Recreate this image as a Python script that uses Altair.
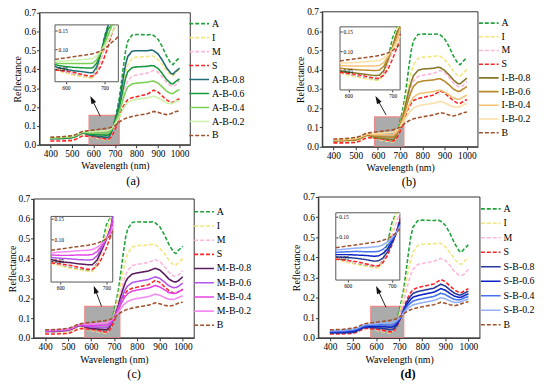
import math
import altair as alt
import pandas as pd

W, H = 542, 380
FONT = "Liberation Serif"

WL = [400, 450, 500, 520, 540, 550, 560, 570, 580, 600,
      620, 640, 660, 670, 680, 690, 700, 710, 720, 730,
      740, 750, 760, 780, 800, 850, 870, 880, 900, 920,
      940, 960, 970, 980, 1000]

A = [.030, .031, .034, .042, .056, .060, .058, .052, .046, .040,
     .035, .031, .027, .027, .045, .085, .135, .185, .245, .330,
     .420, .500, .550, .582, .585, .583, .585, .580, .560, .520,
     .470, .432, .425, .440, .462]
I = [.028, .029, .032, .040, .052, .056, .055, .050, .044, .038,
     .033, .029, .025, .025, .040, .075, .115, .160, .215, .275,
     .335, .385, .425, .458, .465, .468, .472, .470, .452, .425,
     .392, .368, .366, .378, .400]
M = [.030, .031, .035, .044, .056, .060, .058, .053, .047, .041,
     .037, .033, .029, .029, .042, .070, .100, .135, .180, .230,
     .275, .315, .340, .365, .370, .380, .390, .395, .385, .360,
     .330, .312, .310, .315, .340]
S = [.020, .020, .022, .030, .042, .046, .047, .046, .045, .043,
     .040, .035, .030, .030, .038, .055, .080, .110, .145, .180,
     .205, .225, .240, .250, .255, .268, .282, .290, .280, .258,
     .238, .225, .225, .232, .245]
B = [.040, .042, .048, .055, .066, .070, .072, .074, .075, .078,
     .081, .084, .087, .089, .092, .096, .102, .110, .120, .128,
     .135, .140, .145, .150, .155, .165, .172, .177, .172, .165,
     .160, .165, .170, .175, .180]

AB8 = [.032, .033, .037, .045, .058, .062, .061, .056, .052, .048,
       .044, .042, .039, .039, .054, .087, .128, .170, .220, .290,
       .363, .428, .469, .496, .499, .499, .502, .499, .482, .449,
       .408, .379, .374, .387, .406]
AB6 = [.034, .035, .040, .047, .060, .064, .064, .061, .058, .055,
       .053, .052, .051, .052, .064, .089, .122, .155, .195, .249,
       .306, .356, .388, .409, .413, .416, .420, .419, .405, .378,
       .346, .325, .323, .334, .349]
AB4 = [.036, .038, .042, .050, .062, .066, .066, .065, .063, .063,
       .063, .063, .063, .064, .073, .092, .115, .140, .170, .209,
       .249, .284, .307, .323, .327, .332, .337, .338, .327, .307,
       .284, .272, .272, .281, .293]
AB2 = [.038, .040, .045, .052, .064, .068, .069, .070, .069, .070,
       .072, .073, .075, .077, .083, .094, .109, .125, .145, .168,
       .192, .212, .226, .236, .241, .249, .255, .258, .250, .236,
       .222, .218, .221, .228, .236]

IB8 = [.030, .032, .035, .043, .055, .059, .058, .055, .050, .046,
       .043, .040, .037, .038, .050, .079, .112, .150, .196, .246,
       .295, .336, .369, .396, .403, .407, .412, .411, .396, .373,
       .346, .327, .327, .337, .356]
IB6 = [.033, .034, .038, .046, .058, .062, .062, .060, .056, .054,
       .052, .051, .050, .051, .061, .083, .110, .140, .177, .216,
       .255, .287, .313, .335, .341, .347, .352, .353, .340, .321,
       .299, .287, .288, .297, .312]
IB4 = [.035, .037, .042, .049, .060, .064, .065, .064, .063, .062,
       .062, .062, .062, .063, .071, .088, .107, .130, .158, .187,
       .215, .238, .257, .273, .279, .286, .292, .294, .284, .269,
       .253, .246, .248, .256, .268]
IB2 = [.038, .039, .045, .052, .063, .067, .069, .069, .069, .070,
       .071, .073, .075, .076, .082, .092, .105, .120, .139, .157,
       .175, .189, .201, .212, .217, .226, .232, .236, .228, .217,
       .206, .206, .209, .216, .224]

MB8 = [.032, .033, .038, .046, .058, .062, .061, .057, .053, .048,
       .046, .043, .041, .041, .052, .075, .100, .130, .168, .210,
       .247, .280, .301, .322, .327, .337, .346, .351, .342, .321,
       .296, .283, .282, .287, .308]
MB6 = [.034, .035, .040, .048, .060, .064, .064, .061, .058, .056,
       .055, .053, .052, .053, .062, .080, .101, .125, .156, .189,
       .219, .245, .262, .279, .284, .294, .303, .308, .300, .282,
       .262, .253, .254, .259, .276]
MB4 = [.036, .038, .043, .051, .062, .066, .066, .066, .064, .063,
       .063, .064, .064, .065, .072, .086, .101, .120, .144, .169,
       .191, .210, .223, .236, .241, .251, .259, .264, .257, .243,
       .228, .224, .226, .231, .244]
MB2 = [.038, .040, .045, .053, .064, .068, .069, .070, .069, .071,
       .072, .074, .075, .077, .082, .091, .102, .115, .132, .148,
       .163, .175, .184, .193, .198, .208, .216, .221, .215, .204,
       .194, .194, .198, .203, .212]

SB8 = [.024, .024, .027, .035, .047, .051, .052, .052, .051, .050,
       .048, .045, .041, .042, .049, .063, .084, .110, .140, .170,
       .191, .208, .221, .230, .235, .247, .260, .267, .258, .239,
       .222, .213, .214, .221, .232]
SB6 = [.028, .029, .032, .040, .052, .056, .057, .057, .057, .057,
       .056, .055, .053, .054, .060, .071, .089, .110, .135, .159,
       .177, .191, .202, .210, .215, .227, .238, .245, .237, .221,
       .207, .201, .203, .209, .219]
SB4 = [.032, .033, .038, .045, .056, .060, .062, .063, .063, .064,
       .065, .064, .064, .065, .070, .080, .093, .110, .130, .149,
       .163, .174, .183, .190, .195, .206, .216, .222, .215, .202,
       .191, .189, .192, .198, .206]
SB2 = [.036, .038, .043, .050, .061, .065, .067, .068, .069, .071,
       .073, .074, .076, .077, .081, .088, .098, .110, .125, .138,
       .149, .157, .164, .170, .175, .186, .194, .200, .194, .184,
       .176, .177, .181, .186, .193]

END_COLORS = {"A": "#1fa33a", "I": "#f3e67c", "M": "#ffb6dc",
              "S": "#ff2424", "B": "#a0522d"}

X_TICKS = [400, 500, 600, 700, 800, 900, 1000]
Y_TICKS = [0.0, 0.1, 0.2, 0.3, 0.4, 0.5, 0.6, 0.7]
INSET_X_TICKS = [600, 700]
INSET_Y_TICKS = [0.05, 0.10, 0.15]

PANELS = [
    dict(label="(a)", mix=["A-B-0.8", "A-B-0.6", "A-B-0.4", "A-B-0.2"],
         vals=[AB8, AB6, AB4, AB2],
         colors=["#1f6b78", "#179a3c", "#7dd055", "#cdf2ab"],
         px=(32, 185), py=(136, 2), ix=(47.7, 112), iy=(72, 14.3),
         ixd=(572, 736), iyd=(0.015, 0.165), box=(580, 720, 0.156),
         arrow=((632, 0.151), (586, 0.259)), leg=(188, 7), rowpad=3.2,
         lab=(127, 173)),
    dict(label="(b)", mix=["I-B-0.8", "I-B-0.6", "I-B-0.4", "I-B-0.2"],
         vals=[IB8, IB6, IB4, IB2],
         colors=["#877828", "#b98a2c", "#f5c274", "#fbdfa6"],
         px=(319, 477), py=(138, 1), ix=(337, 398), iy=(80.3, 16.3),
         ixd=(581, 717), iyd=(0.0, 0.163), box=(585, 717, 0.155),
         arrow=((637, 0.165), (589, 0.263)), leg=(482, 6.5), rowpad=2.9,
         lab=(407, 174)),
    dict(label="(c)", mix=["M-B-0.8", "M-B-0.6", "M-B-0.4", "M-B-0.2"],
         vals=[MB8, MB6, MB4, MB2],
         colors=["#5b1a5e", "#b455ec", "#e443e6", "#f58af2"],
         px=(26, 189), py=(332, 191), ix=(43.7, 106.3), iy=(275.3, 208.7),
         ixd=(580, 714), iyd=(0.0, 0.155), box=(573, 726, 0.159),
         arrow=((646, 0.159), (612, 0.263)), leg=(193, 198), rowpad=3.4,
         lab=(128, 369)),
    dict(label="(d)", mix=["S-B-0.8", "S-B-0.6", "S-B-0.4", "S-B-0.2"],
         vals=[SB8, SB6, SB4, SB2],
         colors=["#283a9c", "#0b22c4", "#4672f2", "#94b2f8"],
         px=(315, 479), py=(332, 189), ix=(332.7, 397.7), iy=(273.3, 205),
         ixd=(573, 718), iyd=(-0.005, 0.159), box=(577, 720, 0.157),
         arrow=((643, 0.152), (600, 0.258)), leg=(484, 195), rowpad=3.7,
         lab=(406, 369)),
]

for arr in [A, I, M, S, B, AB8, AB6, AB4, AB2, IB8, IB6, IB4, IB2,
            MB8, MB6, MB4, MB2, SB8, SB6, SB4, SB2]:
    assert len(arr) == len(WL)

AX_COLOR = "#333333"


def inset_points(vals, xd, yd):
    pts = list(zip(WL, vals))
    i0 = max(i for i, (w, _) in enumerate(pts) if w <= xd[0])
    i1 = min(i for i, (w, _) in enumerate(pts) if w >= xd[1])
    out = []
    for w, v in pts[i0:i1 + 1]:
        out.append((w, v))
        if v > yd[1]:
            break
    return out


def panel_chart(p):
    names = ["A", "I", "M", "S"] + p["mix"] + ["B"]
    colors = [END_COLORS[n] for n in "AIMS"] + p["colors"] + [END_COLORS["B"]]
    dashes = [[4, 2]] * 4 + [[1, 0]] * 4 + [[4, 2]]
    series = [("A", A), ("I", I), ("M", M), ("S", S)] + \
        list(zip(p["mix"], p["vals"])) + [("B", B)]

    main_df = pd.DataFrame([{"series": n, "wl": w, "val": v}
                            for n, vals in series for w, v in zip(WL, vals)])
    inset_df = pd.DataFrame([{"series": n, "wl": w, "val": v}
                             for n, vals in series
                             for w, v in inset_points(vals, p["ixd"], p["iyd"])])

    leg = alt.Legend(title=None, orient="none", legendX=p["leg"][0],
                     legendY=p["leg"][1], rowPadding=p["rowpad"])
    color = alt.Color("series:N", scale=alt.Scale(domain=names, range=colors),
                      legend=leg)
    dash = alt.StrokeDash("series:N", scale=alt.Scale(domain=names, range=dashes),
                          legend=leg)

    # ---- main plot ----
    xs = alt.Scale(domain=[350, 1050], range=[p["px"][0], p["px"][1]],
                   nice=False, zero=False)
    ys = alt.Scale(domain=[0, 0.7], range=[p["py"][0], p["py"][1]],
                   nice=False, zero=False)
    xaxis = alt.Axis(orient="bottom", offset=p["py"][0] - H, values=X_TICKS,
                     format="d", title="Wavelength (nm)", grid=False, tickSize=3,
                     labelFlush=False, zindex=1, labelFontSize=9.5,
                     titleFontSize=10, titlePadding=3, labelPadding=1)
    yaxis = alt.Axis(orient="left", offset=-p["px"][0], values=Y_TICKS,
                     format=".1f", title="Reflectance", grid=False, tickSize=3,
                     zindex=1, labelFontSize=9.5, titleFontSize=10,
                     titlePadding=1, labelPadding=1)
    X = alt.X("wl:Q", scale=xs, axis=xaxis)
    Y = alt.Y("val:Q", scale=ys, axis=yaxis)

    frame = alt.Chart(pd.DataFrame({"wl": [350], "wl2": [1050], "val": [0.0],
                                    "val2": [0.7]})).mark_rect(
        fillOpacity=0, stroke=AX_COLOR, strokeWidth=1).encode(
        x=X, x2="wl2:Q", y=Y, y2="val2:Q")
    gray = alt.Chart(pd.DataFrame({"wl": [p["box"][0]], "wl2": [p["box"][1]],
                                   "val": [0.0], "val2": [p["box"][2]]})).mark_rect(
        fill="#ababab", stroke="#f08a8a", strokeWidth=1.2).encode(
        x=X, x2="wl2:Q", y=Y, y2="val2:Q")
    lines = alt.Chart(main_df).mark_line(strokeWidth=1.6).encode(
        x=X, y=Y, color=color, strokeDash=dash)

    # arrow (tail -> tip), head drawn as a rotated triangle
    (tx, ty), (hx, hy) = p["arrow"]
    def to_px(x, y):
        return (p["px"][0] + (x - 350) / 700 * (p["px"][1] - p["px"][0]),
                p["py"][0] + y / 0.7 * (p["py"][1] - p["py"][0]))
    def to_data(X_, Y_):
        return (350 + (X_ - p["px"][0]) / (p["px"][1] - p["px"][0]) * 700,
                (Y_ - p["py"][0]) / (p["py"][1] - p["py"][0]) * 0.7)
    tpx, tpy = to_px(tx, ty)
    hpx, hpy = to_px(hx, hy)
    dx, dy = hpx - tpx, hpy - tpy
    L = math.hypot(dx, dy)
    ux, uy = dx / L, dy / L
    cx, cy = to_data(hpx - 4 * ux, hpy - 4 * uy)
    ang = math.degrees(math.atan2(dx, -dy)) % 360
    arrow_line = alt.Chart(pd.DataFrame({"wl": [tx], "val": [ty], "wl2": [cx],
                                         "val2": [cy]})).mark_rule(
        color="#222222", strokeWidth=1).encode(x=X, y=Y, x2="wl2:Q", y2="val2:Q")
    arrow_head = alt.Chart(pd.DataFrame({"wl": [cx], "val": [cy]})).mark_point(
        shape="M0,-1L0.65,1L-0.65,1Z", filled=True, size=64, opacity=1,
        color="#111111").encode(x=X, y=Y, angle=alt.value(ang))

    label = alt.Chart(pd.DataFrame({"t": [p["label"]]})).mark_text(
        font=FONT, fontSize=12.5, fontWeight="bold" if p["label"] == "(d)" else "normal",
        color="black").encode(text="t:N", x=alt.value(p["lab"][0]),
                              y=alt.value(p["lab"][1]))

    main = alt.layer(frame, gray, lines, arrow_line, arrow_head, label)

    # ---- inset ----
    ixs = alt.Scale(domain=list(p["ixd"]), range=[p["ix"][0], p["ix"][1]],
                    nice=False, zero=False, clamp=True)
    iys = alt.Scale(domain=list(p["iyd"]), range=[p["iy"][0], p["iy"][1]],
                    nice=False, zero=False, clamp=True)
    ixaxis = alt.Axis(orient="bottom", offset=p["iy"][0] - H, values=INSET_X_TICKS,
                      format="d", title=None, grid=False, tickSize=2,
                      labelFontSize=5.5, labelFlush=False, zindex=2,
                      labelPadding=2, domain=False)
    iyaxis = alt.Axis(orient="right", offset=p["ix"][0] - W, values=INSET_Y_TICKS,
                      format=".2f", title=None, grid=False, tickSize=2,
                      labelFontSize=5.5, zindex=2, labelPadding=1, domain=False)
    IX = alt.X("wl:Q", scale=ixs, axis=ixaxis)
    IY = alt.Y("val:Q", scale=iys, axis=iyaxis)
    inset_frame = alt.Chart(pd.DataFrame({"wl": [p["ixd"][0]], "wl2": [p["ixd"][1]],
                                          "val": [p["iyd"][0]],
                                          "val2": [p["iyd"][1]]})).mark_rect(
        fill="white", stroke="#555555", strokeWidth=1).encode(
        x=IX, x2="wl2:Q", y=IY, y2="val2:Q")
    inset_lines = alt.Chart(inset_df).mark_line(strokeWidth=1.5).encode(
        x=IX, y=IY, color=color, strokeDash=dash)
    inset = alt.layer(inset_frame, inset_lines)

    return alt.layer(main, inset).resolve_scale(x="independent", y="independent")


chart = alt.layer(*[panel_chart(p) for p in PANELS]).resolve_scale(
    x="independent", y="independent", color="independent",
    strokeDash="independent").properties(
    width=W, height=H, autosize=alt.AutoSizeParams(type="none"), padding=0
).configure_view(stroke=None).configure_axis(
    labelFont=FONT, titleFont=FONT, titleFontWeight="normal", labelColor="black",
    titleColor="black", domainColor=AX_COLOR, tickColor=AX_COLOR
).configure_legend(
    labelFont=FONT, labelFontSize=10, labelColor="black",
    symbolType="M-2,0L2,0", symbolSize=100, symbolStrokeWidth=1.6,
    labelOffset=7, padding=0
)

chart.save("out.html", embed_options={"renderer": "svg", "actions": False})
